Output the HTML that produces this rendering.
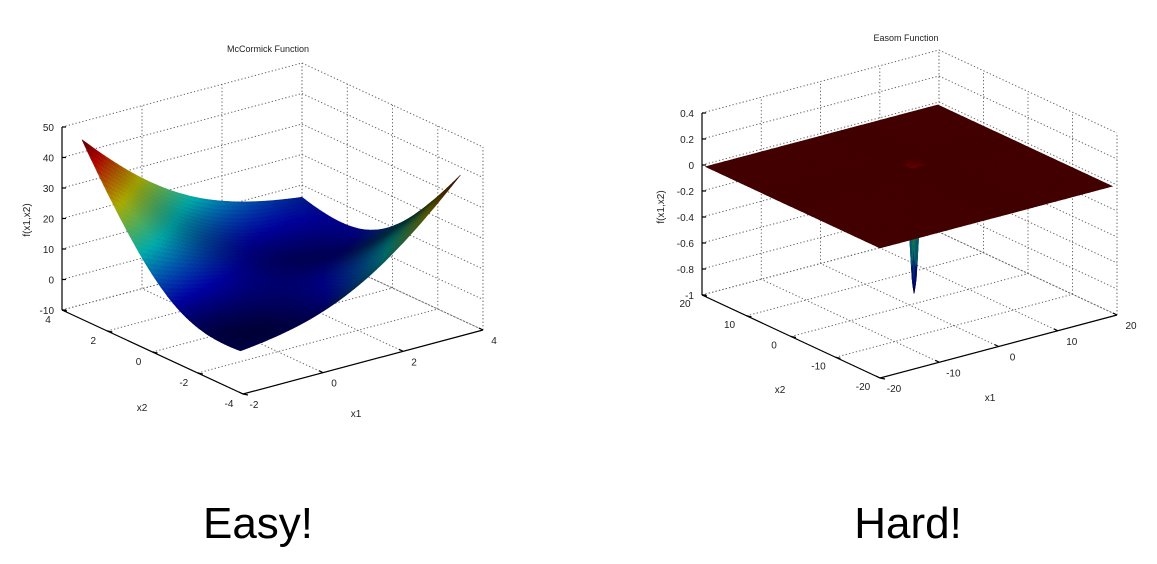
<!DOCTYPE html>
<html><head><meta charset="utf-8"><style>
html,body{margin:0;padding:0;background:#fff;}
svg{display:block;font-family:"Liberation Sans",sans-serif;}
</style></head><body>
<svg id="s" width="1157" height="564" viewBox="0 0 1157 564" xmlns="http://www.w3.org/2000/svg">
<g id="left"></g>
<g id="right"></g>
<text x="258" y="538" font-size="44" text-anchor="middle">Easy!</text>
<text x="908" y="538" font-size="44" text-anchor="middle">Hard!</text>
</svg>
<script>
const NS="http://www.w3.org/2000/svg";
// McCormick chart data
const mcX1Ticks=[-2,0,2,4];
const mcX2Ticks=[-4,-2,0,2,4];
const mcZTicks=[-10,0,10,20,30,40,50];
const mcX1Domain=[-1.5,4];
const mcX2Domain=[-3,4];
// Easom chart data
const eaX1Ticks=[-20,-10,0,10,20];
const eaX2Ticks=[-20,-10,0,10,20];
const eaZTicks=[-1,-0.8,-0.6,-0.4,-0.2,0,0.2,0.4];
const eaZLabels=["-1","-0.8","-0.6","-0.4","-0.2","0","0.2","0.4"];

function mk(tag,attrs,parent){const e=document.createElementNS(NS,tag);for(const k in attrs)e.setAttribute(k,attrs[k]);parent.appendChild(e);return e;}
function jet(t){t=Math.max(0,Math.min(1,t));const c=v=>Math.max(0,Math.min(1,1.5-Math.abs(v)));return [c(4*t-3),c(4*t-2),c(4*t-1)];}
function clamp(v,a,b){return Math.max(a,Math.min(b,v));}

function chart(g,cfg){
  const {front,right,left,x1r,x2r,zr,zpx}=cfg;
  const P=(x1,x2,z)=>{const u=(x1-x1r[0])/(x1r[1]-x1r[0]),v=(x2-x2r[0])/(x2r[1]-x2r[0]);
    return [front[0]+u*(right[0]-front[0])+v*(left[0]-front[0]),
            front[1]+u*(right[1]-front[1])+v*(left[1]-front[1])-(z-zr[0])*zpx];};
  const line=(a,b,style,name)=>{const l=mk('line',{x1:a[0].toFixed(1),y1:a[1].toFixed(1),x2:b[0].toFixed(1),y2:b[1].toFixed(1)},g);
    if(style==='dot'){l.setAttribute('stroke','#666');l.setAttribute('stroke-width','1');l.setAttribute('stroke-dasharray','1.3 2.2');}
    else{l.setAttribute('stroke','#000');l.setAttribute('stroke-width','1.2');}
    
    };
  const [a0,a1]=x1r,[b0,b1]=x2r,[z0,z1]=zr;
  cfg.x1t.forEach(t=>{line(P(t,b0,z0),P(t,b1,z0),'dot','x1-gridline');line(P(t,b1,z0),P(t,b1,z1),'dot','x1-gridline');});
  cfg.x2t.forEach(t=>{line(P(a0,t,z0),P(a1,t,z0),'dot','x2-gridline');line(P(a1,t,z0),P(a1,t,z1),'dot','x2-gridline');});
  cfg.zt.forEach(t=>{line(P(a0,b1,t),P(a1,b1,t),'dot','z-gridline');line(P(a1,b1,t),P(a1,b0,t),'dot','z-gridline');});
  line(P(a1,b0,z0),P(a1,b0,z1),'dot','box-edge');
  line(P(a1,b1,z0),P(a1,b1,z1),'dot','box-edge');
  const xs=cfg.xs,ys=cfg.ys,f=cfg.f;
  const quads=[];
  for(let i=0;i<xs.length-1;i++)for(let j=0;j<ys.length-1;j++){
    const pts=[[xs[i],ys[j]],[xs[i+1],ys[j]],[xs[i+1],ys[j+1]],[xs[i],ys[j+1]]];
    const zs=pts.map(p=>f(p[0],p[1]));
    const d=((xs[i]+xs[i+1])/2-a0)/(a1-a0)+((ys[j]+ys[j+1])/2-b0)/(b1-b0);
    quads.push({pts,zs,d});
  }
  quads.sort((p,q)=>q.d-p.d);
  const surf=mk('g',{},g);
  
  
  quads.forEach(q=>{
    const zm=q.zs.reduce((s,v)=>s+v,0)/4;
    const P4=q.pts.map((p,k)=>P(p[0],p[1],q.zs[k]));
    let area=0;for(let k=0;k<4;k++){const A=P4[k],B=P4[(k+1)%4];area+=A[0]*B[1]-B[0]*A[1];}
    area=Math.abs(area)/2;
    const dk=cfg.area?(0.12+0.55*clamp((Math.sqrt(area)-1.2)/3.2,0,1)):cfg.dark;
    const c=jet((zm-cfg.cmin)/(cfg.cmax-cfg.cmin)).map(v=>Math.round(v*255*dk));
    const col=`rgb(${c[0]},${c[1]},${c[2]})`;
    const pp=P4.map(p=>p.map(v=>v.toFixed(1)).join(',')).join(' ');
    const el=mk('polygon',{points:pp,fill:col,stroke:col,'stroke-width':'0.6'},surf);
    
    
  });
  line(P(a0,b1,z0),P(a0,b1,z1),'solid','z-axis');
  line(P(a0,b1,z0),P(a0,b0,z0),'solid','x2-axis');
  line(P(a0,b0,z0),P(a1,b0,z0),'solid','x1-axis');
  const txt=(x,y,s,anchor,name,extra)=>{const t=mk('text',Object.assign({x:x.toFixed(1),y:y.toFixed(1),'font-size':'10','text-anchor':anchor,fill:'#222'},extra||{}),g);t.textContent=s;
    
    return t;};
  cfg.zt.forEach((t,k)=>{const p=P(a0,b1,t);line(p,[p[0]+4,p[1]],'solid','z-tick');txt(p[0]-8,p[1]+4,cfg.zl?cfg.zl[k]:String(t),'end','z-tick-label');});
  cfg.x2t.forEach(t=>{const p=P(a0,t,z0);line(p,[p[0]+5,p[1]+1],'solid','x2-tick');txt(p[0]+cfg.x2o[0],p[1]+cfg.x2o[1]+4,String(t),'middle','x2-tick-label');});
  cfg.x1t.forEach(t=>{const p=P(t,b0,z0);line(p,[p[0]-4,p[1]-2],'solid','x1-tick');txt(p[0]+cfg.x1o[0],p[1]+cfg.x1o[1]+4,String(t),'middle','x1-tick-label');});
  txt(cfg.title[0],cfg.title[1],cfg.title[2],'middle','chart-title',{'font-size':'9'});
  txt(cfg.x1lab[0],cfg.x1lab[1],'x1','middle','x1-axis-title',{'font-size':'10'});
  txt(cfg.x2lab[0],cfg.x2lab[1],'x2','middle','x2-axis-title',{'font-size':'10'});
  txt(cfg.zlab[0],cfg.zlab[1],'f(x1,x2)','middle','z-axis-title',{'font-size':'10',transform:`rotate(-90 ${cfg.zlab[0]} ${cfg.zlab[1]})`});
}
function lin(a,b,n){const r=[];for(let i=0;i<=n;i++)r.push(a+(b-a)*i/n);return r;}

chart(document.getElementById('left'),{
  front:[243,394],right:[483,330],left:[62,310],x1r:[-2,4],x2r:[-4,4],zr:[-10,50],zpx:3.05,
  x1t:mcX1Ticks,x2t:mcX2Ticks,zt:mcZTicks,
  xs:lin(mcX1Domain[0],mcX1Domain[1],50),ys:lin(mcX2Domain[0],mcX2Domain[1],50),
  f:(a,b)=>Math.sin(a+b)+(a-b)*(a-b)-1.5*a+2.5*b+1,cmin:-2,cmax:44,area:true,
  x2o:[-14,9],x1o:[11,10],title:[268,52,'McCormick Function'],x1lab:[356,417],x2lab:[142,411],zlab:[30,220]
});
const ex=[];for(let v=-20;v<=20;v+=0.8)if(Math.abs(v-Math.PI)>3)ex.push(v);
for(let v=Math.PI-3;v<=Math.PI+3.001;v+=0.2)ex.push(v);ex.sort((a,b)=>a-b);
chart(document.getElementById('right'),{
  front:[880,378],right:[1117,315],left:[702,295],x1r:[-20,20],x2r:[-20,20],zr:[-1,0.4],zpx:130,
  x1t:eaX1Ticks,x2t:eaX2Ticks,zt:eaZTicks,zl:eaZLabels,
  xs:ex,ys:ex,
  f:(a,b)=>-Math.cos(a)*Math.cos(b)*Math.exp(-((a-Math.PI)**2+(b-Math.PI)**2)),cmin:-1,cmax:0.03,dark:0.42,
  x2o:[-17,8],x1o:[14,10],title:[906,41,'Easom Function'],x1lab:[990,401],x2lab:[780,393],zlab:[664,207]
});
</script>
</body></html>
